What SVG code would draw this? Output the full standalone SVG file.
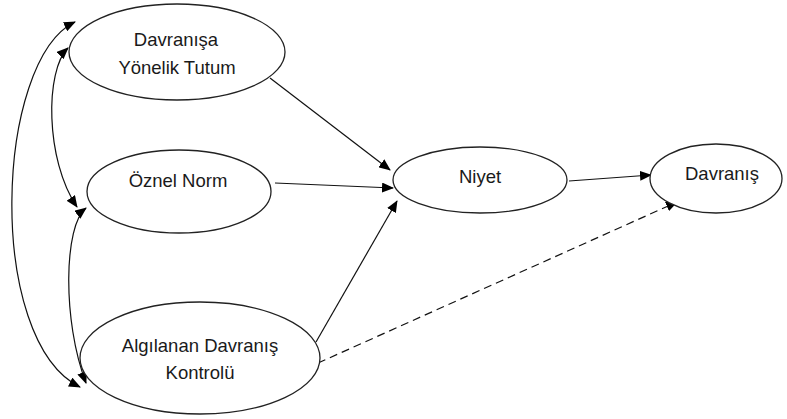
<svg xmlns="http://www.w3.org/2000/svg" width="787" height="419" viewBox="0 0 787 419">
<style>
.node ellipse{fill:#fff;stroke:#222;stroke-width:1.3}
.node text{font-family:"Liberation Sans",Arial,sans-serif;font-size:18.5px;fill:#1a1a1a;text-anchor:middle}
.conn path,.conn line{fill:none;stroke:#111;stroke-width:1.2}
.dash{stroke-dasharray:8 5}
</style>
<defs>
<marker id="ah" markerUnits="userSpaceOnUse" markerWidth="12" markerHeight="10" refX="11" refY="5" orient="auto-start-reverse" viewBox="0 0 12 10">
<path d="M0,0 L12,5 L0,10 z" fill="#000"/>
</marker>
</defs>
<rect width="787" height="419" fill="#fff"/>
<g id="connectors" class="conn">
<path d="M75,22 C-5,60 -15,340 80,387" marker-start="url(#ah)" marker-end="url(#ah)"/>
<path d="M68,48 C45,70 45,160 77,207" marker-start="url(#ah)" marker-end="url(#ah)"/>
<path d="M86,208 C64,225 62,320 86,383" marker-start="url(#ah)" marker-end="url(#ah)"/>
<line x1="270" y1="78" x2="390" y2="170" marker-end="url(#ah)"/>
<line x1="275" y1="183" x2="393" y2="188" marker-end="url(#ah)"/>
<line x1="316" y1="342" x2="397" y2="201" marker-end="url(#ah)"/>
<line x1="569" y1="181" x2="651" y2="175" marker-end="url(#ah)"/>
<line class="dash" x1="318" y1="363" x2="677" y2="202" marker-end="url(#ah)"/>
</g>
<g id="tutum" class="node">
<ellipse cx="177" cy="52" rx="108" ry="48"/>
<text x="176" y="46">Davranışa</text>
<text x="177" y="74">Yönelik Tutum</text>
</g>
<g id="norm" class="node">
<ellipse cx="179" cy="191.5" rx="92" ry="41.5"/>
<text x="178" y="187">Öznel Norm</text>
</g>
<g id="kontrol" class="node">
<ellipse cx="200" cy="358" rx="120" ry="56"/>
<text x="200" y="352">Algılanan Davranış</text>
<text x="200" y="379">Kontrolü</text>
</g>
<g id="niyet" class="node">
<ellipse cx="480" cy="180" rx="87" ry="33"/>
<text x="480" y="183">Niyet</text>
</g>
<g id="davranis" class="node">
<ellipse cx="716" cy="178.5" rx="66" ry="34.5"/>
<text x="722" y="180">Davranış</text>
</g>
</svg>
